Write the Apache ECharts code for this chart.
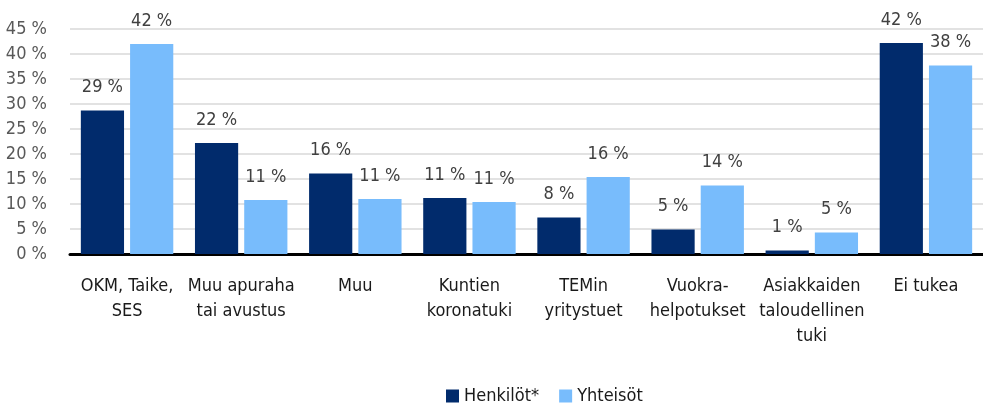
<!DOCTYPE html>
<html>
<head>
<meta charset="utf-8">
<script src="https://cdn.jsdelivr.net/npm/echarts@6/dist/echarts.min.js"></script>
<style>
	html, body { margin: 0; padding: 0; background: #fff; }
	#chart { width: 983px; height: 406px; }
</style>
</head>
<body>
<div id="chart"></div>
<script>
// data
var categories = ["OKM, Taike,\nSES", "Muu apuraha\ntai avustus", "Muu", "Kuntien\nkoronatuki", "TEMin\nyritystuet", "Vuokra-\nhelpotukset", "Asiakkaiden\ntaloudellinen\ntuki", "Ei tukea"];
var henkilot = [28.7, 22.2, 16.1, 11.2, 7.3, 4.9, 0.7, 42.2];
var henkilotLabels = ["29 %", "22 %", "16 %", "11 %", "8 %", "5 %", "1 %", "42 %"];
var yhteisot = [42.0, 10.8, 11.0, 10.4, 15.4, 13.7, 4.3, 37.7];
var yhteisotLabels = ["42 %", "11 %", "11 %", "11 %", "16 %", "14 %", "5 %", "38 %"];
var seriesNames = ["Henkilöt*", "Yhteisöt"];

var FONT = "'Liberation Sans Narrow', 'DejaVu Sans Condensed', 'Roboto', sans-serif";

var myChart = echarts.init(document.getElementById('chart'));

function labelFrom(arr) {
	return {
		show: true,
		position: 'top',
		distance: 14,
		fontFamily: FONT,
		fontSize: 18,
		color: '#404040',
		formatter: function (p) { return arr[p.dataIndex]; }
	};
}

var option = {
	animation: false,
	textStyle: { fontFamily: FONT },
	grid: { left: 70, right: 0, top: 29, bottom: 152 },
	legend: {
		top: 382,
		left: 441,
		itemWidth: 13,
		itemHeight: 13,
		itemGap: 20,
		icon: 'rect',
		textStyle: { fontFamily: FONT, fontSize: 18, color: '#1a1a1a' },
		data: seriesNames
	},
	xAxis: {
		type: 'category',
		data: categories,
		axisLine: { lineStyle: { color: '#000', width: 3 } },
		axisTick: { show: false },
		axisLabel: { fontFamily: FONT, fontSize: 18, color: '#1a1a1a', lineHeight: 25, margin: 20, interval: 0 }
	},
	yAxis: {
		type: 'value',
		min: 0,
		max: 45,
		interval: 5,
		axisLine: { show: false },
		axisTick: { show: false },
		splitLine: { lineStyle: { color: '#d9d9d9', width: 1.5 } },
		axisLabel: {
			fontFamily: FONT, fontSize: 18, color: '#595959', margin: 23,
			formatter: function (v) { return v + ' %'; }
		}
	},
	series: [
		{
			name: seriesNames[0],
			type: 'bar',
			data: henkilot,
			itemStyle: { color: '#012b6c' },
			barGap: '14%',
			barCategoryGap: '19%',
			label: labelFrom(henkilotLabels)
		},
		{
			name: seriesNames[1],
			type: 'bar',
			data: yhteisot,
			itemStyle: { color: '#78bcfc' },
			label: labelFrom(yhteisotLabels)
		}
	]
};

myChart.setOption(option);
</script>
</body>
</html>
